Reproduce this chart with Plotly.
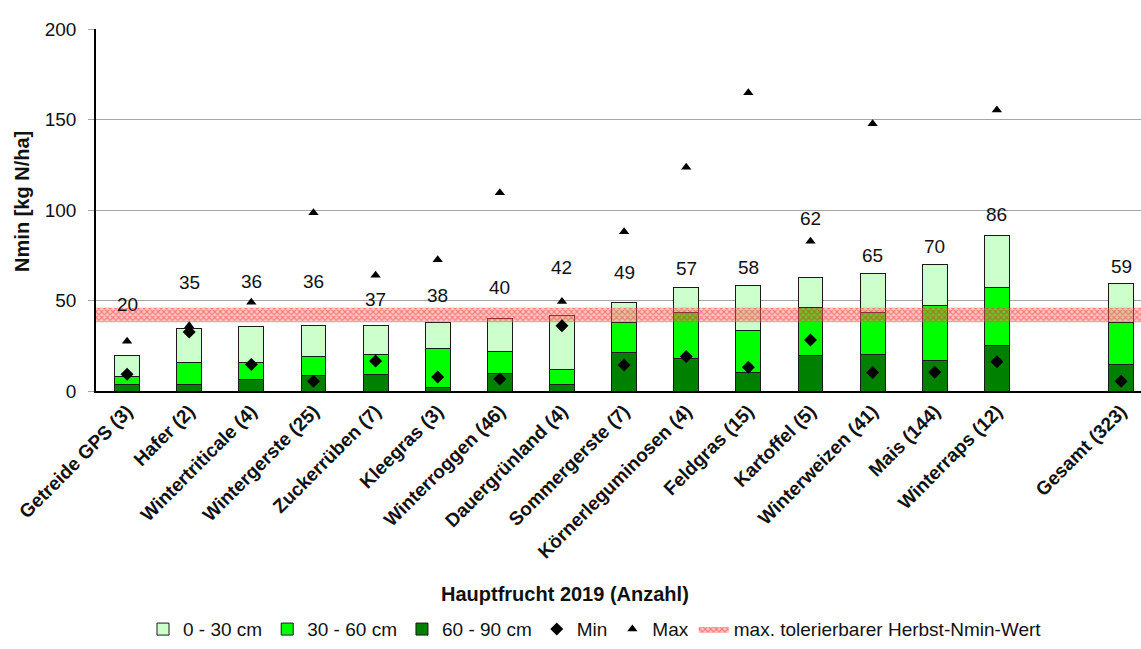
import plotly.graph_objects as go

categories = ["Getreide GPS (3)", "Hafer (2)", "Wintertriticale (4)", "Wintergerste (25)",
              "Zuckerrüben (7)", "Kleegras (3)", "Winterroggen (46)", "Dauergrünland (4)",
              "Sommergerste (7)", "Körnerleguminosen (4)", "Feldgras (15)", "Kartoffel (5)",
              "Winterweizen (41)", "Mais (144)", "Winterraps (12)", "Gesamt (323)"]
slot = [0, 1, 2, 3, 4, 5, 6, 7, 8, 9, 10, 11, 12, 13, 14, 16]

layer_60_90 = [3.6, 3.8, 6.3, 8.7, 9.2, 1.7, 9.9, 3.4, 21.0, 18.2, 10.0, 19.7, 20.2, 17.1, 25.4, 14.8]
layer_30_60 = [4.3, 11.7, 9.2, 10.5, 10.9, 21.8, 12.2, 8.3, 17.1, 25.2, 23.4, 26.6, 23.0, 30.1, 31.8, 23.1]
layer_0_30 = [11.7, 19.1, 20.0, 17.0, 16.3, 14.3, 18.2, 30.0, 10.9, 13.9, 25.0, 16.5, 21.9, 22.8, 28.8, 21.4]
totals = [20, 35, 36, 36, 37, 38, 40, 42, 49, 57, 58, 62, 65, 70, 86, 59]
min_vals = [9.2, 32.6, 14.7, 5.4, 16.6, 7.7, 6.6, 36.0, 14.4, 19.0, 13.1, 28.2, 10.2, 10.3, 16.2, 5.4]
max_vals = [27.5, 36.0, 49.0, 98.5, 63.9, 72.5, 109.5, 49.4, 88.0, 123.6, 164.8, 82.7, 147.7, 230.0, 155.3, 230.0]
band_low, band_high = 38, 46

# label placement offsets above bar total (style)
label_offsets = [27.6, 25.0, 24.5, 24.5, 13.3, 15.0, 17.0, 26.0, 16.7, 10.5, 10.0, 33.5, 9.7, 9.8, 11.5, 9.9]

FONT = "Arial, Liberation Sans, sans-serif"
XR = [-0.5, 16.32]
PLOT_L, PLOT_BOTTOM, PLOT_W, PLOT_H = 96, 397.5, 1045, 368.5

fig = go.Figure()
bar_line = dict(color="#1a1a1a", width=1)
fig.add_trace(go.Bar(x=slot, y=layer_60_90, name="60 - 90 cm", marker=dict(color="#008000", line=bar_line), width=0.4))
fig.add_trace(go.Bar(x=slot, y=layer_30_60, name="30 - 60 cm", marker=dict(color="#00FF00", line=bar_line), width=0.4))
fig.add_trace(go.Bar(x=slot, y=layer_0_30, name="0 - 30 cm", marker=dict(color="#CCFFCC", line=bar_line), width=0.4))

fig.add_trace(go.Scatter(
    x=[XR[0], XR[1], XR[1], XR[0], XR[0]],
    y=[band_low, band_low, band_high, band_high, band_low],
    mode="lines", fill="toself", line=dict(width=0),
    fillpattern=dict(shape="x", fgcolor="rgba(255,0,0,0.8)", bgcolor="rgba(255,120,120,0.4)",
                     size=4, solidity=0.5),
    name="max. tolerierbarer Herbst-Nmin-Wert", hoverinfo="skip"))

fig.add_trace(go.Scatter(x=slot, y=min_vals, mode="markers", name="Min",
                         marker=dict(symbol="diamond", size=10, color="black")))
fig.add_trace(go.Scatter(x=slot, y=max_vals, mode="markers", name="Max",
                         marker=dict(symbol="triangle-up", size=9, color="black")))

for s, t, off in zip(slot, totals, label_offsets):
    fig.add_annotation(x=s, y=t + off, text=str(t), showarrow=False,
                       font=dict(family=FONT, size=19, color="#111"), yanchor="middle")

fig.add_annotation(xref="paper", yref="paper", x=(565 - PLOT_L) / PLOT_W, y=(PLOT_BOTTOM - 604) / PLOT_H,
                   text="<b>Hauptfrucht 2019 (Anzahl)</b>", showarrow=False,
                   font=dict(family=FONT, size=20, color="#111"), xanchor="center", yanchor="middle")
fig.add_annotation(xref="paper", yref="paper", x=(22 - PLOT_L) / PLOT_W, y=(PLOT_BOTTOM - 205) / PLOT_H,
                   text="<b>Nmin [kg N/ha]</b>", showarrow=False, textangle=-90,
                   font=dict(family=FONT, size=20, color="#111"), xanchor="center", yanchor="middle")

fig.update_layout(
    width=1141, height=649,
    margin=dict(l=PLOT_L, r=0, t=29, b=649 - PLOT_BOTTOM),
    barmode="stack",
    plot_bgcolor="white", paper_bgcolor="white",
    font=dict(family=FONT, size=19, color="#111"),
    legend=dict(orientation="h", x=(143 - PLOT_L) / PLOT_W, xanchor="left",
                y=(PLOT_BOTTOM - 640) / PLOT_H, yanchor="middle", traceorder="normal",
                font=dict(family=FONT, size=19, color="#111"), itemwidth=30, tracegroupgap=0),
    xaxis=dict(range=XR, tickmode="array", tickvals=slot,
               ticktext=["<b>%s</b>" % c for c in categories],
               tickangle=-45, tickfont=dict(family=FONT, size=19, color="#111"),
               showgrid=False, showline=True, linecolor="black", linewidth=1.5,
               ticks="", zeroline=False),
    yaxis=dict(range=[0, 200], tickvals=[0, 50, 100, 150, 200],
               tickfont=dict(family=FONT, size=19, color="#111"),
               showgrid=True, gridcolor="#a6a6a6", gridwidth=1,
               showline=True, linecolor="black", linewidth=1.5,
               ticks="outside", ticklen=6, tickcolor="#a6a6a6", zeroline=False,
               ticklabelstandoff=8),
    showlegend=True,
)

order = {"0 - 30 cm": 1, "30 - 60 cm": 2, "60 - 90 cm": 3, "Min": 4, "Max": 5,
         "max. tolerierbarer Herbst-Nmin-Wert": 6}
for tr in fig.data:
    tr.legendrank = order[tr.name]

fig.write_html("out.html", config={"displayModeBar": False},
               post_script="document.body.style.margin='0';document.body.style.overflow='hidden';")
